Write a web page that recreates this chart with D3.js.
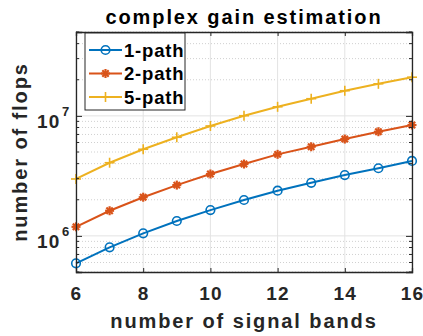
<!DOCTYPE html>
<html>
<head>
<meta charset="utf-8">
<script src="https://cdn.jsdelivr.net/npm/d3@7"></script>
<style>
  body { margin: 0; background: #fff; }
  text { font-family: "Liberation Sans", Arial, Helvetica, sans-serif; font-weight: bold; }
</style>
</head>
<body>
<div id="graphic"></div>
<script>
// data
var bands = [6, 7, 8, 9, 10, 11, 12, 13, 14, 15, 16];
var path1 = [5.91e5, 8.03e5, 1.05e6, 1.33e6, 1.64e6, 1.99e6, 2.38e6, 2.77e6, 3.21e6, 3.66e6, 4.21e6];
var path2 = [1.19e6, 1.62e6, 2.10e6, 2.65e6, 3.28e6, 3.97e6, 4.78e6, 5.53e6, 6.41e6, 7.38e6, 8.39e6];
var path5 = [2.98e6, 4.07e6, 5.27e6, 6.63e6, 8.24e6, 1.003e7, 1.19e7, 1.39e7, 1.62e7, 1.85e7, 2.10e7];
var seriesNames = ["1-path", "2-path", "5-path"];
var xTicks = [6, 8, 10, 12, 14, 16];
var yTicks = [1e6, 1e7];

var colors = ["#0072BD", "#D95319", "#EDB120"];
var markers = ["circle", "asterisk", "plus"];

var margin = { top: 32, right: 11, bottom: 64, left: 76 };
var W = 423, H = 336;
var width = W - margin.left - margin.right;
var height = H - margin.top - margin.bottom;

var svg = d3.select("#graphic").append("svg")
  .attr("width", W)
  .attr("height", H);

var g = svg.append("g")
  .attr("transform", "translate(" + margin.left + "," + margin.top + ")");

var x = d3.scaleLinear().domain([6, 16]).range([0, width]);
var y = d3.scaleLog().domain([5e5, 5e7]).range([height, 0]);

// minor grid (dotted)
var minor = y.ticks().filter(function (v) { return yTicks.indexOf(v) < 0; });
g.selectAll(".minorgrid").data(minor).enter().append("line")
  .attr("x1", 0).attr("x2", width)
  .attr("y1", function (d) { return y(d); }).attr("y2", function (d) { return y(d); })
  .attr("stroke", "#d0d0d0").attr("stroke-width", 1)
  .attr("stroke-dasharray", "1,2");

// major grid
g.selectAll(".xgrid").data(xTicks).enter().append("line")
  .attr("x1", function (d) { return x(d); }).attr("x2", function (d) { return x(d); })
  .attr("y1", 0).attr("y2", height)
  .attr("stroke", "#e3e3e3").attr("stroke-width", 1);
g.selectAll(".ygrid").data(yTicks).enter().append("line")
  .attr("x1", 0).attr("x2", width)
  .attr("y1", function (d) { return y(d); }).attr("y2", function (d) { return y(d); })
  .attr("stroke", "#e3e3e3").attr("stroke-width", 1);

// series
var allSeries = [path1, path2, path5];
var line = d3.line()
  .x(function (d, i) { return x(bands[i]); })
  .y(function (d) { return y(d); });

function drawMarker(sel, type, color) {
  if (type == "circle") {
    sel.append("circle").attr("r", 4.3)
      .attr("fill", "none").attr("stroke", color).attr("stroke-width", 1.6);
  } else if (type == "asterisk") {
    var r = 4.5;
    [0, 45, 90, 135].forEach(function (a) {
      var rad = a * Math.PI / 180;
      sel.append("line")
        .attr("x1", -r * Math.cos(rad)).attr("y1", -r * Math.sin(rad))
        .attr("x2", r * Math.cos(rad)).attr("y2", r * Math.sin(rad))
        .attr("stroke", color).attr("stroke-width", 2.2);
    });
  } else {
    var r2 = 5;
    sel.append("line").attr("x1", -r2).attr("x2", r2).attr("y1", 0).attr("y2", 0)
      .attr("stroke", color).attr("stroke-width", 1.6);
    sel.append("line").attr("x1", 0).attr("x2", 0).attr("y1", -r2).attr("y2", r2)
      .attr("stroke", color).attr("stroke-width", 1.6);
  }
}

allSeries.forEach(function (s, k) {
  g.append("path")
    .datum(s)
    .attr("d", line)
    .attr("fill", "none")
    .attr("stroke", colors[k])
    .attr("stroke-width", 2);

  g.selectAll(".pt" + k).data(s).enter().append("g")
    .attr("transform", function (d, i) { return "translate(" + x(bands[i]) + "," + y(d) + ")"; })
    .each(function () { drawMarker(d3.select(this), markers[k], colors[k]); });
});

// axes
var axisColor = "#262626";
var xAxis = g.append("g")
  .attr("transform", "translate(0," + height + ")")
  .call(d3.axisBottom(x).tickValues(xTicks).tickSize(-4).tickPadding(15).tickFormat(d3.format("d")));
var xTop = g.append("g")
  .call(d3.axisTop(x).tickValues(xTicks).tickSize(-4).tickFormat(""));

var yAxis = g.append("g")
  .call(d3.axisLeft(y).tickValues(yTicks).tickSize(-6).tickFormat(""));
var yRight = g.append("g")
  .attr("transform", "translate(" + width + ",0)")
  .call(d3.axisRight(y).tickValues(yTicks).tickSize(-6).tickFormat(""));

// minor ticks on y
[0, width].forEach(function (xx, side) {
  g.selectAll(".mt" + side).data(minor).enter().append("line")
    .attr("x1", xx).attr("x2", side == 0 ? xx + 3 : xx - 3)
    .attr("y1", function (d) { return y(d); }).attr("y2", function (d) { return y(d); })
    .attr("stroke", axisColor).attr("stroke-width", 1);
});

[xAxis, xTop, yAxis, yRight].forEach(function (a) {
  a.select(".domain").attr("stroke", axisColor).attr("stroke-width", 1.3);
  a.selectAll(".tick line").attr("stroke", axisColor);
});
xAxis.selectAll(".tick text")
  .attr("fill", axisColor)
  .style("font-size", "19px")
  .style("letter-spacing", "1.2px")
  .style("font-family", "Liberation Sans, Arial, sans-serif")
  .style("font-weight", "bold");

// y tick labels as 10^n
yAxis.selectAll(".tick").each(function (d) {
  var t = d3.select(this);
  t.append("text")
    .attr("x", -39).attr("y", 11.7)
    .attr("text-anchor", "start")
    .attr("fill", axisColor)
    .style("font-size", "19px")
    .style("letter-spacing", "1.2px")
    .text("10");
  t.append("text")
    .attr("x", -14).attr("y", -0.5)
    .attr("text-anchor", "start")
    .attr("fill", axisColor)
    .style("font-size", "13px")
    .text(Math.round(Math.log10(d)));
});

// title and labels
svg.append("text")
  .attr("x", margin.left + width / 2).attr("y", 24.3)
  .attr("text-anchor", "middle")
  .style("font-size", "20px")
  .style("letter-spacing", "1.9px")
  .attr("fill", "#000")
  .text("complex gain estimation");

svg.append("text")
  .attr("x", margin.left + width / 2).attr("y", 328)
  .attr("text-anchor", "middle")
  .style("font-size", "20px")
  .style("letter-spacing", "1.9px")
  .attr("fill", axisColor)
  .text("number of signal bands");

svg.append("text")
  .attr("transform", "translate(27," + (margin.top + height / 2) + ") rotate(-90)")
  .attr("text-anchor", "middle")
  .style("font-size", "20px")
  .style("letter-spacing", "1.9px")
  .attr("fill", axisColor)
  .text("number of flops");

// legend
var lg = g.append("g").attr("transform", "translate(9,1)");
lg.append("rect")
  .attr("width", 100).attr("height", 77)
  .attr("fill", "#fff").attr("stroke", axisColor).attr("stroke-width", 1);
seriesNames.forEach(function (name, k) {
  var row = lg.append("g").attr("transform", "translate(0," + (17 + k * 23.5) + ")");
  row.append("line").attr("x1", 4).attr("x2", 37).attr("y1", 0).attr("y2", 0)
    .attr("stroke", colors[k]).attr("stroke-width", 2);
  var m = row.append("g").attr("transform", "translate(20.5,0)");
  drawMarker(m, markers[k], colors[k]);
  row.append("text").attr("x", 39).attr("dy", "0.36em")
    .style("font-size", "18.5px")
    .style("letter-spacing", "0.8px")
    .attr("fill", "#000")
    .text(name);
});
</script>
</body>
</html>
